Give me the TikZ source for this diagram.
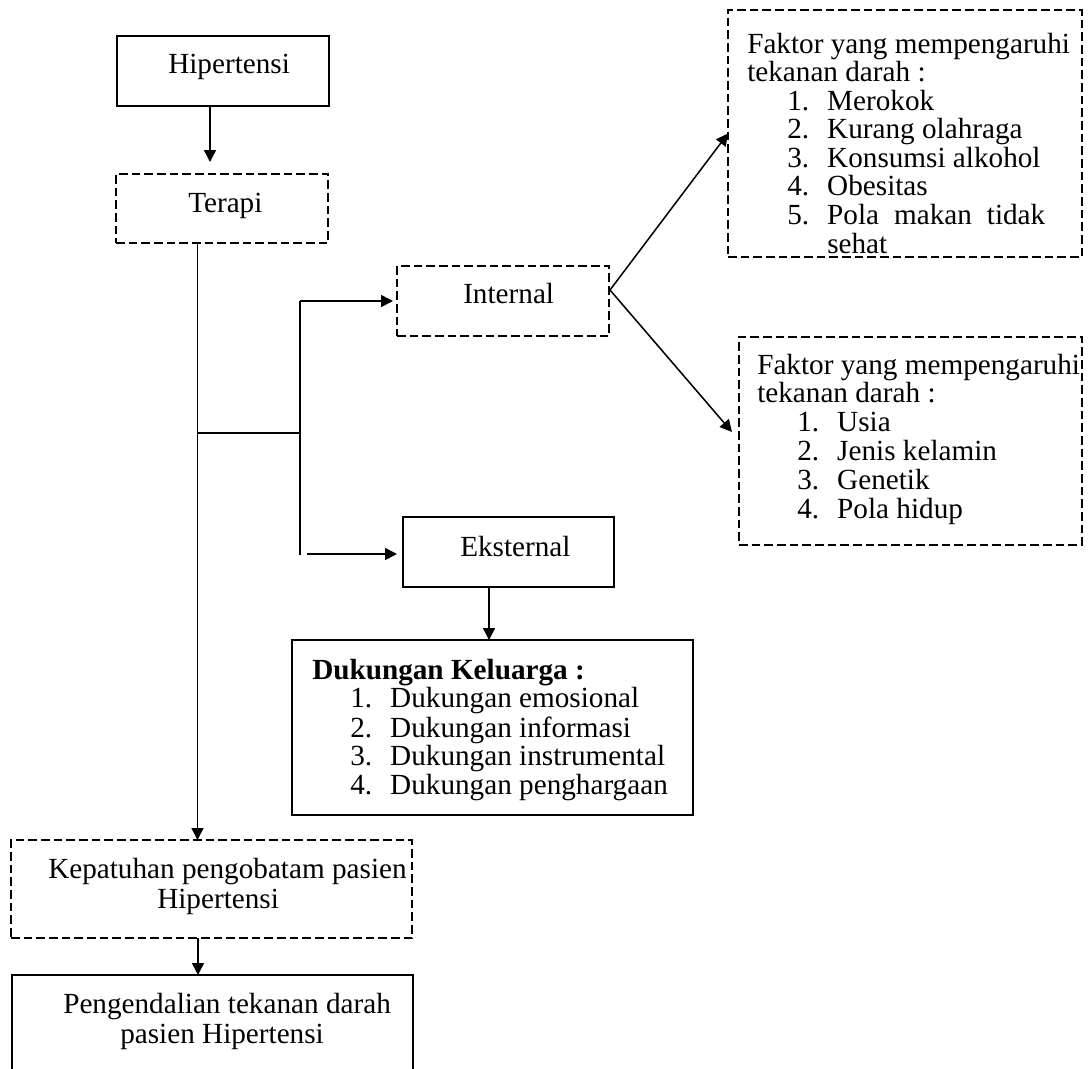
\documentclass[tikz,border=0pt]{standalone}
\usepackage{fontspec}
\setmainfont{Liberation Serif}
\usetikzlibrary{arrows.meta,calc}
\newlength\px \setlength\px{0.75pt}
\newcommand\itm[2]{\hspace*{40\px}\makebox[40\px][l]{#1}#2}
\begin{document}
\begin{tikzpicture}[x=0.75pt,y=-0.75pt,
  box/.style={draw, line width=1.8pt, inner sep=0pt, outer sep=0pt},
  dbox/.style={box, dash pattern=on 6.5pt off 3pt},
  txt/.style={anchor=base west, inner sep=0pt, font=\fontsize{21.9}{20.8}\selectfont},
  arr/.style={line width=1.15pt, -{Triangle[length=9pt,width=9pt]}},
  ln/.style={line width=1.15pt}]
\useasboundingbox (0,0) rectangle (1089,1068);
\clip (0,0) rectangle (1089,1068);

% boxes
\node[box, minimum width=159pt, minimum height=52.5pt] (hip) at (223,71) {};
\node[txt] (thip) at (168,73) {Hipertensi};

\node[dbox, minimum width=159pt, minimum height=51.75pt] (ter) at (222,208.5) {};
\node[txt] (tter) at (188,212) {Terapi};

\node[dbox, minimum width=159pt, minimum height=52.5pt] (int) at (503,301) {};
\node[txt] (tint) at (463,303) {Internal};

\node[box, minimum width=158.25pt, minimum height=52.5pt] (eks) at (508.5,552) {};
\node[txt] (teks) at (460,556) {Eksternal};

\node[box, minimum width=300.75pt, minimum height=131.25pt] (duk) at (492.5,727.5) {};
\node[txt, font=\fontsize{21.9}{21.56}\selectfont] (tduk) at (312,679) {\begin{tabular}[t]{@{}l@{}}\textbf{Dukungan Keluarga :}\\
\hspace*{-2\px}\itm{1.}{Dukungan emosional}\\
\hspace*{-2\px}\itm{2.}{Dukungan informasi}\\
\hspace*{-2\px}\itm{3.}{Dukungan instrumental}\\
\hspace*{-2\px}\itm{4.}{Dukungan penghargaan}\end{tabular}};

\node[dbox, minimum width=265.5pt, minimum height=185.25pt] (fak1) at (905,133.5) {};
\node[txt] (tfak1) at (747,53) {\begin{tabular}[t]{@{}l@{}}Faktor yang mempengaruhi\\
tekanan darah :\\
\itm{1.}{Merokok}\\
\itm{2.}{Kurang olahraga}\\
\itm{3.}{Konsumsi alkohol}\\
\itm{4.}{Obesitas}\\
\itm{5.}{\makebox[218\px][s]{Pola makan tidak}}\\
\hspace*{80\px}sehat\end{tabular}};

\node[dbox, minimum width=257.25pt, minimum height=156pt] (fak2) at (910.5,441) {};
\node[txt, font=\fontsize{21.9}{21.6}\selectfont] (tfak2) at (757,374) {\begin{tabular}[t]{@{}l@{}}Faktor yang mempengaruhi\\
tekanan darah :\\
\itm{1.}{Usia}\\
\itm{2.}{Jenis kelamin}\\
\itm{3.}{Genetik}\\
\itm{4.}{Pola hidup}\end{tabular}};

\node[dbox, minimum width=300.75pt, minimum height=73.5pt] (kep) at (211.5,889) {};
\node[txt, font=\fontsize{21.9}{22.5}\selectfont] (tkep) at (48,878) {\begin{tabular}[t]{@{}l@{}}Kepatuhan pengobatam pasien\\
\hspace*{109\px}Hipertensi\end{tabular}};

\node[box, minimum width=300.75pt, minimum height=86.25pt] (pen) at (212.5,1032.5) {};
\node[txt, font=\fontsize{21.9}{22.5}\selectfont] (tpen) at (63,1013) {\begin{tabular}[t]{@{}l@{}}Pengendalian tekanan darah\\
\hspace*{57\px}pasien Hipertensi\end{tabular}};

% connectors
\draw[arr] ($(hip.south)+(-13,0)$) -- ($(ter.north)+(-12,-12)$);
\draw[arr] ($(ter.south)+(-24.5,0)$) -- ($(kep.north)+(-14,0)$);
\coordinate (j1) at (197.5,433);
\coordinate (j2) at (300,433);
\coordinate (bt) at (300,301);
\coordinate (bb) at (300,555);
\coordinate (bb2) at (307,554);
\draw[ln] (j1) -- (j2);
\draw[ln] (bt) -- (bb);
\draw[arr] (bt) -- ($(int.west)+(-4,0)$);
\draw[arr] (bb2) -- ($(eks.west)+(-6,2)$);
\draw[arr] ($(eks.south)+(-19.5,0)$) -- ($(duk.north)+(-3.5,0)$);
\draw[arr] ($(int.east)+(1,-11)$) -- (fak1.west);
\draw[arr] ($(int.east)+(1,-11)$) -- ($(fak2.west)+(-7,-9)$);
\draw[arr] ($(kep.south)+(-13.5,0)$) -- ($(pen.north)+(-14.5,0)$);
\end{tikzpicture}
\end{document}
